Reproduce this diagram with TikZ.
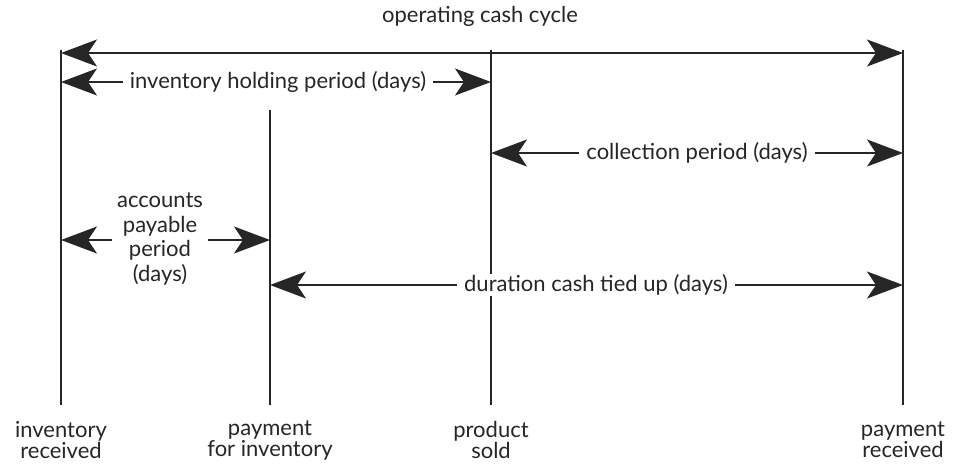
\documentclass[tikz,border=0pt]{standalone}
\usepackage{fontspec}
\setmainfont{Lato}
\usetikzlibrary{arrows.meta}
\begin{document}
\begin{tikzpicture}[x=1pt,y=-1pt,
  tick/.style={line width=2pt,draw=black!85},
  span/.style={line width=2pt,draw=black!85,{Stealth[length=36pt,width=27pt,inset=9pt]}-{Stealth[length=36pt,width=27pt,inset=9pt]}},
  lbl/.style={font=\fontsize{22}{24.5}\selectfont,text=black!85,fill=white,inner xsep=7pt,inner ysep=1pt,align=center},
  foot/.style={font=\fontsize{22}{21}\selectfont,text=black!85,align=center,inner sep=0pt}]
\useasboundingbox (0,0) rectangle (961,466);
% vertical event lines
\coordinate (recT) at (61,50);   \coordinate (recB) at (61,405);
\coordinate (payT) at (270,110); \coordinate (payB) at (270,405);
\coordinate (solT) at (491,50);  \coordinate (solB) at (491,405);
\coordinate (rcvT) at (903,50);  \coordinate (rcvB) at (903,405);
\draw[tick] (recT) -- (recB);
\draw[tick] (payT) -- (payB);
\draw[tick] (solT) -- (solB);
\draw[tick] (rcvT) -- (rcvB);
% spans between events
\coordinate (occL) at (61,53);   \coordinate (occR) at (903,53);
\coordinate (ihpL) at (61,82);   \coordinate (ihpR) at (491,82);
\coordinate (colL) at (491,153); \coordinate (colR) at (903,153);
\coordinate (appL) at (61,240);  \coordinate (appR) at (270,240);
\coordinate (dctL) at (270,285); \coordinate (dctR) at (903,285);
\node[lbl] (occ) at (480,16) {operating cash cycle};
\draw[span] (occL) -- (occR);
\draw[span] (ihpL) -- (ihpR);
\node[lbl] (ihp) at (278,82) {inventory holding period (days)};
\draw[span] (colL) -- (colR);
\node[lbl] (col) at (697,153) {collection period (days)};
\draw[span] (appL) -- (appR);
\node[lbl,inner ysep=0pt,inner xsep=5pt] (app) at (160,239) {accounts\\payable\\period\\(days)};
\draw[span] (dctL) -- (dctR);
\node[lbl] (dct) at (596,285) {duration cash tied up (days)};
% event labels
\node[foot] (rec) at (61,440) {inventory\\received};
\node[foot] (pay) at (270,440) {payment\\for inventory};
\node[foot] (sol) at (491,440) {product\\sold};
\node[foot] (rcv) at (903,440) {payment\\received};
\end{tikzpicture}
\end{document}
